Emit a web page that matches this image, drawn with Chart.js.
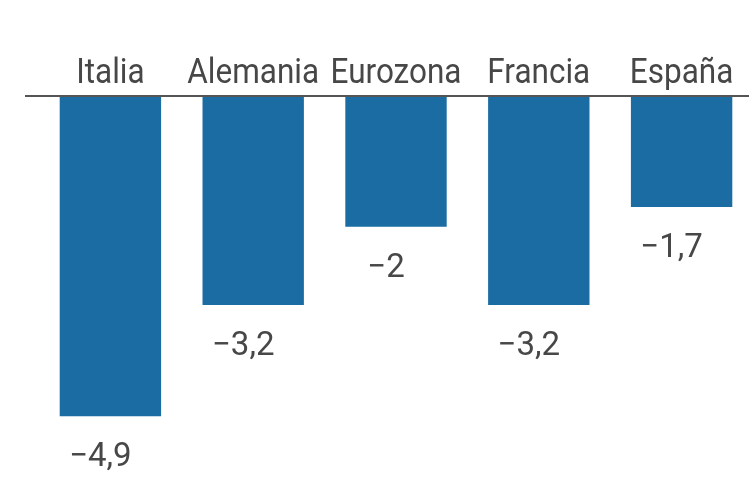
<!DOCTYPE html>
<html>
<head>
<meta charset="utf-8">
<script src="https://cdn.jsdelivr.net/npm/chart.js@4/dist/chart.umd.min.js"></script>
<style>
  html, body { margin: 0; padding: 0; background: #fff; overflow: hidden; }
  #wrap { width: 753px; height: 500px; position: relative; }
</style>
</head>
<body>
<div id="wrap"><canvas id="deficitChart"></canvas></div>
<script>
// Categories and values
const countries = ['Italia', 'Alemania', 'Eurozona', 'Francia', 'España'];
const deficit = [-4.9, -3.2, -2, -3.2, -1.7];
const valueLabels = ['\u22124,9', '\u22123,2', '\u22122', '\u22123,2', '\u22121,7'];

// Draws the top baseline, the country names and the value labels
const labelPlugin = {
    id: 'labelPlugin',
    afterDatasetsDraw(chart) {
        const ctx = chart.ctx;
        const x = chart.scales.x;
        const y = chart.scales.y;
        const zeroY = y.getPixelForValue(0);

        ctx.save();
        // baseline
        ctx.strokeStyle = '#555';
        ctx.lineWidth = 2;
        ctx.beginPath();
        ctx.moveTo(25, zeroY);
        ctx.lineTo(chart.width, zeroY);
        ctx.stroke();

        // country names above the line (squeezed, the original uses a condensed face)
        ctx.fillStyle = '#474747';
        ctx.textAlign = 'center';
        ctx.textBaseline = 'alphabetic';
        ctx.font = '35px Roboto, "Liberation Sans", sans-serif';
        countries.forEach((name, i) => {
            ctx.save();
            ctx.translate(x.getPixelForValue(i), zeroY - 13);
            ctx.scale(0.9, 1);
            ctx.fillText(name, 0, 0);
            ctx.restore();
        });

        // values under each bar
        ctx.font = '33px Roboto, "Liberation Sans", sans-serif';
        ctx.textBaseline = 'middle';
        deficit.forEach((v, i) => {
            ctx.fillText(valueLabels[i], x.getPixelForValue(i) - 10, y.getPixelForValue(v) + 42);
        });
        ctx.restore();
    }
};

const ctx = document.getElementById('deficitChart').getContext('2d');
window.myChart = new Chart(ctx, {
    type: 'bar',
    data: {
        labels: countries,
        datasets: [{
            data: deficit,
            backgroundColor: '#1a6ca3',
            borderWidth: 0,
            categoryPercentage: 1,
            barPercentage: 0.71
        }]
    },
    options: {
        responsive: true,
        maintainAspectRatio: false,
        animation: false,
        layout: { padding: { top: 96, bottom: 12, left: 39, right: 0 } },
        plugins: { legend: { display: false }, tooltip: { enabled: false } },
        scales: {
            x: { display: false },
            y: { display: false, min: -6, max: 0 }
        }
    },
    plugins: [labelPlugin]
});
</script>
</body>
</html>
